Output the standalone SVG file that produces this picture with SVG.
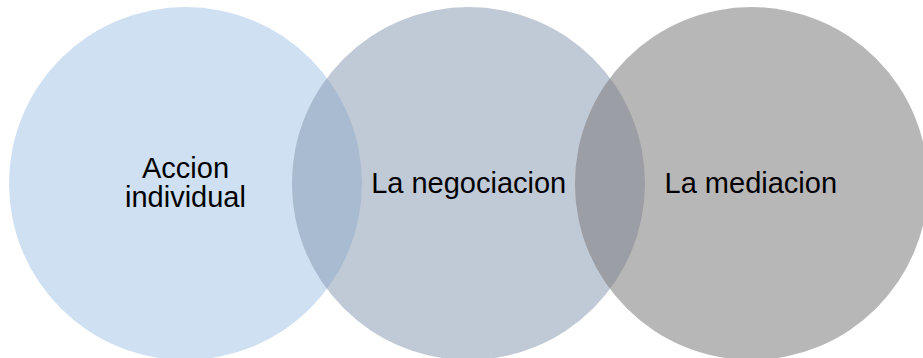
<svg xmlns="http://www.w3.org/2000/svg" width="923" height="358" viewBox="0 0 923 358">
  <style>
    .lbl { font-family: "Liberation Sans", Arial, sans-serif; font-size: 29px; fill: #000000; text-anchor: middle; }
  </style>
  <defs>
    <clipPath id="clip1"><circle cx="185.5" cy="183.5" r="176.5"/></clipPath>
    <clipPath id="clip2"><circle cx="468.5" cy="183.5" r="176.5"/></clipPath>
  </defs>
  <rect width="923" height="358" fill="#ffffff"/>
  <g id="node-accion">
    <circle cx="185.5" cy="183.5" r="176.5" fill="#CEE0F2"/>
  </g>
  <g id="node-negociacion">
    <circle cx="468.5" cy="183.5" r="176.5" fill="#C0CAD7"/>
  </g>
  <g id="node-mediacion">
    <circle cx="751.5" cy="183.5" r="176.5" fill="#B8B7B8"/>
  </g>
  <g id="overlaps">
    <circle cx="468.5" cy="183.5" r="176.5" fill="#A9BBD1" clip-path="url(#clip1)"/>
    <circle cx="751.5" cy="183.5" r="176.5" fill="#9C9EA6" clip-path="url(#clip2)"/>
  </g>
  <g id="labels">
    <text class="lbl" x="185.5" y="178">Accion</text>
    <text class="lbl" x="185.5" y="207">individual</text>
    <text class="lbl" x="468.7" y="193">La negociacion</text>
    <text class="lbl" x="750.8" y="193">La mediacion</text>
  </g>
</svg>
